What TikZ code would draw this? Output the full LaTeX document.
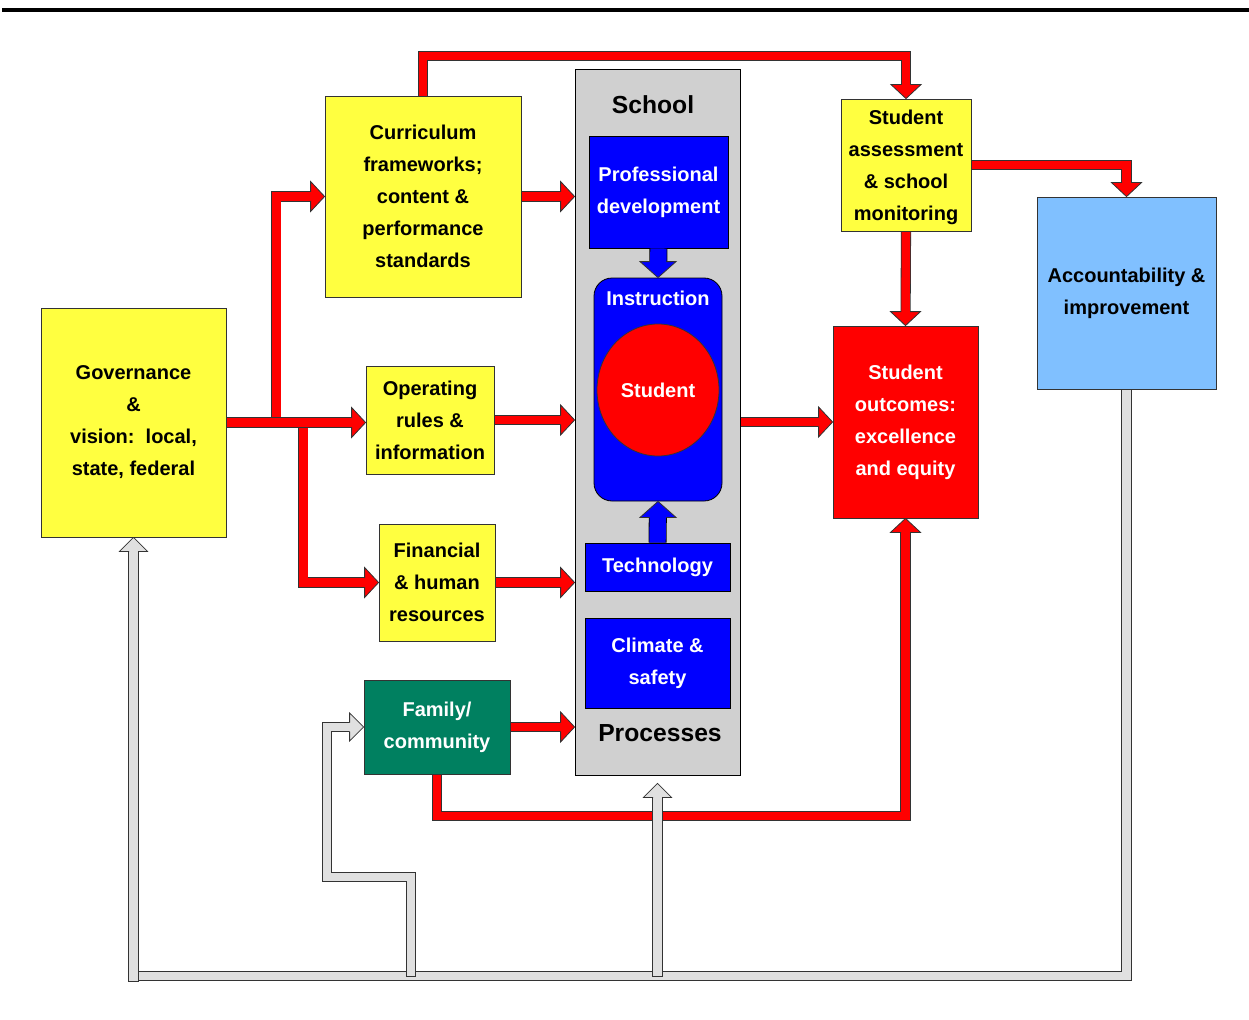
\documentclass[tikz,border=0pt]{standalone}
\usepackage{fontspec}
\setmainfont{Liberation Sans}
\usetikzlibrary{backgrounds,calc,shapes.geometric}
\definecolor{boxyellow}{RGB}{255,255,64}
\definecolor{famgreen}{RGB}{0,128,96}
\definecolor{acctblue}{RGB}{128,192,255}
\definecolor{schoolgray}{RGB}{208,208,208}
\definecolor{arrowgray}{RGB}{224,224,224}
\newcommand\bhead[6]{%
  \fill[#1, shift={#2}, rotate=#3] (0,0) -- (-#4,#5) -- (-#4,-#5) -- cycle;
  \draw[black!80, line width=0.6pt, line join=miter, shift={#2}, rotate=#3]
    (-#4,#6) -- (-#4,#5) -- (0,0) -- (-#4,-#5) -- (-#4,-#6);}
\newcommand\redhead[2]{\bhead{red}{#1}{#2}{14}{15}{4.5}}
\newcommand\grayhead[2]{\bhead{arrowgray}{#1}{#2}{14}{14}{4.5}}
\newcommand\bluehead[2]{\bhead{blue}{#1}{#2}{16}{18}{8.4}}
\tikzset{
  nbox/.style={draw=black!80, line width=0.6pt, inner sep=0pt, align=center,
    font=\bfseries\fontsize{15}{24}\selectfont},
  ybox/.style={nbox, fill=boxyellow, text=black},
  bbox/.style={nbox, draw=black, fill=blue, text=white},
  titletext/.style={inner sep=0pt, font=\bfseries\fontsize{18.5}{22}\selectfont},
  redshaft/.style={draw=black!80, line width=0.6pt, double=red, double distance=6.4pt,
    line join=miter, shorten >=9.5pt},
  grayline/.style={draw=black!80, line width=0.6pt, double=arrowgray, double distance=6.4pt,
    line join=miter, line cap=rect},
  grayshaft/.style={grayline, shorten >=10.5pt},
  blueshaft/.style={draw=black, line width=0.6pt, double=blue, double distance=12.3pt,
    shorten >=11pt}
}
\begin{document}
\begin{tikzpicture}[x=0.75pt,y=-0.75pt]
\useasboundingbox (0,0) rectangle (1249,1020);
\draw[line width=3pt] (2,10) -- (1249,10);

% nodes
\node[ybox, minimum width=138.75pt, minimum height=171.75pt] (gov) at (133.5,422.5)
  {Governance\\\&\\vision:\ \ local,\\state, federal};
\node[ybox, minimum width=147pt, minimum height=150.75pt] (curr) at (423,196.5)
  {Curriculum\\frameworks;\\content \&\\performance\\standards};
\node[ybox, minimum width=96pt, minimum height=81pt] (oper) at (430,420)
  {Operating\\rules \&\\information};
\node[ybox, minimum width=87pt, minimum height=87.75pt] (fin) at (437,582.5)
  {Financial\\\& human\\resources};
\node[nbox, fill=famgreen, text=white, minimum width=109.5pt, minimum height=70.5pt] (fam) at (437,727)
  {Family/\\community};
\node[draw=black, line width=0.6pt, fill=schoolgray, minimum width=123.75pt, minimum height=529.5pt,
  inner sep=0pt] (school) at (657.5,422) {};
\node[titletext] (schooltitle) at (653,105) {School};
\node[titletext] (proc) at (660,733) {Processes};
\node[bbox, minimum width=104.25pt, minimum height=84pt] (prof) at (658.5,192)
  {Professional\\development};
\node[bbox, rounded corners=13.5pt, minimum width=96pt, minimum height=167.25pt] (instr) at (658,389.5) {};
\node[nbox, draw=none, text=white] (instrlabel) at (658,298) {Instruction};
\node[nbox, ellipse, draw=black!80, fill=red, text=white, minimum width=91.5pt, minimum height=99pt]
  (student) at (658,390) {Student};
\node[bbox, minimum width=108.75pt, minimum height=36pt] (tech) at (657.5,567) {Technology};
\node[bbox, minimum width=108.75pt, minimum height=67.5pt] (clim) at (657.5,663) {Climate \&\\safety};
\node[ybox, minimum width=97.5pt, minimum height=99pt] (assess) at (906,165) {};
\node[nbox, draw=none, align=center] (assesstext) at (906,167.5)
  {Student\\assessment\\\& school\\monitoring};
\node[nbox, fill=red, text=white, minimum width=108.75pt, minimum height=144pt] (outc) at (905.5,422)
  {Student\\outcomes:\\excellence\\and equity};
\node[nbox, fill=acctblue, text=black, minimum width=134.25pt, minimum height=144pt] (acct) at (1126.5,293)
  {Accountability \&\\improvement};

% helper coordinates
\coordinate (gbase) at (0,976);
\coordinate (rbase) at (0,816);
\coordinate (rtop) at (0,56);
\coordinate (fa) at (411,972);
\coordinate (fb) at (327,877);

% blue arrows inside the school
\draw[blueshaft] (prof.south) -- (instr.north);
\bluehead{(instr.north)}{-90}
\draw[blueshaft] (tech.north) -- (instr.south);
\bluehead{(instr.south)}{90}

\begin{pgfonlayer}{background}
  % governance branches
  \draw[redshaft] ($(gov.east)+(50,0)$) |- (curr.west);
  \redhead{(curr.west)}{0}
  \draw[redshaft] ($(gov.east)+(77,0)$) |- (fin.west);
  \redhead{(fin.west)}{0}
  \draw[redshaft] (gov.east) -- (gov.east -| oper.west);
  \redhead{(gov.east -| oper.west)}{0}
  % inputs to the school
  \draw[redshaft] (curr.east) -- (curr.east -| school.west);
  \redhead{(curr.east -| school.west)}{0}
  \draw[redshaft] (oper.east) -- (oper.east -| school.west);
  \redhead{(oper.east -| school.west)}{0}
  \draw[redshaft] (fin.east) -- (fin.east -| school.west);
  \redhead{(fin.east -| school.west)}{0}
  \draw[redshaft] (fam.east) -- (fam.east -| school.west);
  \redhead{(fam.east -| school.west)}{0}
  % school to outcomes
  \draw[redshaft] (school.east |- outc.west) -- (outc.west);
  \redhead{(outc.west)}{0}
  % curriculum to assessment
  \draw[redshaft] (curr.north) -- (curr.north |- rtop) -| (assess.north);
  \redhead{(assess.north)}{-90}
  % assessment to accountability
  \draw[redshaft] (assess.east) -| (acct.north);
  \redhead{(acct.north)}{-90}
  % assessment to outcomes
  \draw[redshaft] (assess.south) -- (outc.north);
  \redhead{(outc.north)}{-90}
  % family to outcomes
  \draw[redshaft] (fam.south) -- (fam.south |- rbase) -| (outc.south);
  \redhead{(outc.south)}{90}
  % gray feedback loop
  \draw[grayline] (acct.south) |- ($(gov.south |- gbase)+(2,0)$);
  \draw[grayshaft] ($(gov.south |- gbase)+(0,1)$) -- (gov.south);
  \grayhead{(gov.south)}{90}
  \draw[grayshaft] (fa) |- (fb) |- (fam.west);
  \grayhead{(fam.west)}{0}
  \draw[grayshaft] ($(school.south |- gbase)+(0,-4)$) -- ($(school.south)+(0,8)$);
  \grayhead{($(school.south)+(0,8)$)}{90}
\end{pgfonlayer}
\end{tikzpicture}
\end{document}
